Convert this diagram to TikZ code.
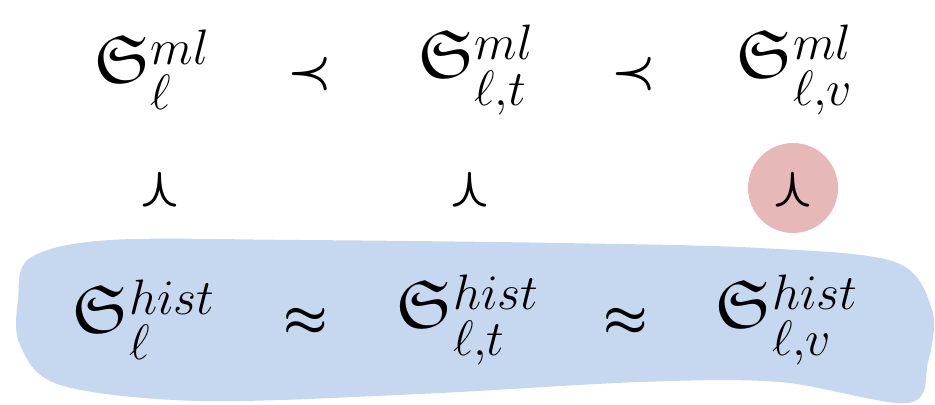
\documentclass[tikz,border=0pt]{standalone}
\usepackage{amsmath,amssymb}
\usepackage{graphicx}
\definecolor{histblue}{RGB}{198,216,240}
\definecolor{gapred}{RGB}{230,184,184}
\begin{document}
\begin{tikzpicture}[x=0.5pt, y=-0.5pt, every node/.style={font=\fontsize{34}{40}\selectfont, inner sep=0pt},
  rel/.style={font=\fontsize{44}{50}\selectfont}]
\useasboundingbox (0,0) rectangle (935,405);
% blob behind the hist row
\fill[histblue] plot[smooth cycle, tension=0.55] coordinates {(18,300) (30,258) (110,240) (300,240) (560,243) (760,248) (895,262) (932,310) (928,362) (908,403) (780,382) (640,382) (420,394) (200,401) (60,385) (20,345)};
\fill[gapred] (793,188) circle (45);
% rows
\foreach \x/\sub/\i in {152/\ell/1,476/{\ell,t}/2,795/{\ell,v}/3} {
  \node (ml\i) at (\x,70) {$\mathfrak{S}^{ml}_{\sub}$};
  \node (hi\i) at (\x-8,320) {$\mathfrak{S}^{hist}_{\sub}$};
}
\foreach \x/\i in {160/1,470/2,793/3} \node[rel,rotate=-90] (w\i) at (\x,190) {$\boldsymbol{\prec}$};
\node[rel] (p1) at (310,74) {$\boldsymbol{\prec}$}; \node[rel] (p2) at (634,74) {$\boldsymbol{\prec}$};
\node[rel] (a1) at (306,322) {$\boldsymbol{\approx}$}; \node[rel] (a2) at (626,322) {$\boldsymbol{\approx}$};
\end{tikzpicture}
\end{document}
